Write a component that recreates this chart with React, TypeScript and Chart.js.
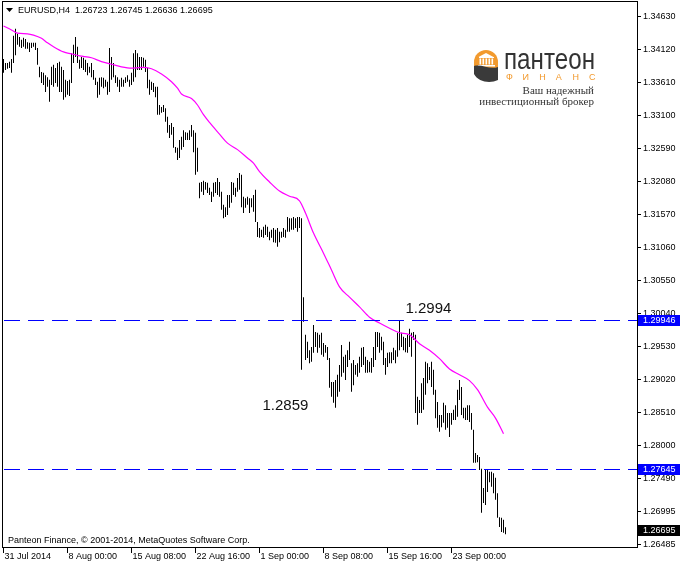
import React, { useEffect, useRef } from 'react';
import { Chart, registerables } from 'chart.js';

Chart.register(...registerables);

const FONT = '"Liberation Sans", Arial, sans-serif';

const symbolTitle = 'EURUSD,H4';
const lastOHLC = [1.26723, 1.26745, 1.26636, 1.26695];

const highs = [
  1.3398, 1.3392, 1.3392, 1.3394, 1.3398, 1.3434, 1.3445, 1.3437, 1.3432, 1.3428,
  1.3431, 1.3429, 1.3424, 1.3423, 1.3423, 1.3423, 1.3423, 1.3415, 1.3386, 1.3378,
  1.3377, 1.3373, 1.3370, 1.3366, 1.3386, 1.3389, 1.3384, 1.3392, 1.3394, 1.3386,
  1.3381, 1.3366, 1.3364, 1.3366, 1.3407, 1.3420, 1.3432, 1.3417, 1.3397, 1.3401,
  1.3400, 1.3397, 1.3392, 1.3386, 1.3392, 1.3381, 1.3369, 1.3363, 1.3369, 1.3370,
  1.3369, 1.3366, 1.3363, 1.3415, 1.3401, 1.3392, 1.3373, 1.3370, 1.3366, 1.3369,
  1.3366, 1.3370, 1.3373, 1.3366, 1.3377, 1.3407, 1.3412, 1.3407, 1.3401, 1.3401,
  1.3400, 1.3397, 1.3384, 1.3366, 1.3363, 1.3361, 1.3355, 1.3355, 1.3327, 1.3324,
  1.3327, 1.3322, 1.3309, 1.3296, 1.3299, 1.3293, 1.3262, 1.3261, 1.3273, 1.3278,
  1.3288, 1.3285, 1.3284, 1.3288, 1.3296, 1.3288, 1.3284, 1.3261, 1.3207, 1.3208,
  1.3210, 1.3208, 1.3207, 1.3199, 1.3193, 1.3207, 1.3208, 1.3214, 1.3208, 1.3193,
  1.3173, 1.3169, 1.3188, 1.3188, 1.3208, 1.3207, 1.3199, 1.3214, 1.3222, 1.3219,
  1.3185, 1.3183, 1.3185, 1.3183, 1.3183, 1.3188, 1.3196, 1.3146, 1.3137, 1.3134,
  1.3139, 1.3142, 1.3139, 1.3131, 1.3134, 1.3137, 1.3134, 1.3137, 1.3131, 1.3131,
  1.3137, 1.3134, 1.3154, 1.3152, 1.3152, 1.3154, 1.3152, 1.3154, 1.3154, 1.3152,
  1.3030, 1.2972, 1.2961, 1.2948, 1.2953, 1.2987, 1.2976, 1.2975, 1.2972, 1.2975,
  1.2959, 1.2956, 1.2953, 1.2936, 1.2899, 1.2899, 1.2902, 1.2910, 1.2925, 1.2956,
  1.2938, 1.2941, 1.2948, 1.2961, 1.2928, 1.2933, 1.2925, 1.2928, 1.2938, 1.2952,
  1.2953, 1.2938, 1.2933, 1.2930, 1.2936, 1.2953, 1.2976, 1.2976, 1.2975, 1.2969,
  1.2961, 1.2936, 1.2944, 1.2945, 1.2945, 1.2952, 1.2948, 1.2975, 1.29946, 1.2975,
  1.2969, 1.2967, 1.2972, 1.2981, 1.2975, 1.2976, 1.2972, 1.2876, 1.2871, 1.2897,
  1.2905, 1.2930, 1.2928, 1.2922, 1.2930, 1.2918, 1.2887, 1.2868, 1.2848, 1.2848,
  1.2867, 1.2863, 1.2851, 1.2851, 1.2851, 1.2856, 1.2863, 1.2887, 1.2902, 1.2891,
  1.2859, 1.2859, 1.2863, 1.2863, 1.2851, 1.2825, 1.2789, 1.2786, 1.2783, 1.2765,
  1.2735, 1.2763, 1.2763, 1.2760, 1.2760, 1.2758, 1.2751, 1.2727, 1.2690, 1.2689,
  1.2686, 1.26745,
];

const lows = [
  1.3377, 1.3381, 1.3383, 1.3384, 1.3377, 1.3392, 1.3404, 1.3420, 1.3417, 1.3415,
  1.3417, 1.3414, 1.3414, 1.3409, 1.3415, 1.3417, 1.3412, 1.3389, 1.3370, 1.3361,
  1.3358, 1.3347, 1.3355, 1.3332, 1.3358, 1.3355, 1.3361, 1.3355, 1.3347, 1.3347,
  1.3335, 1.3339, 1.3343, 1.3341, 1.3361, 1.3392, 1.3401, 1.3392, 1.3383, 1.3384,
  1.3381, 1.3378, 1.3373, 1.3377, 1.3370, 1.3366, 1.3358, 1.3338, 1.3343, 1.3355,
  1.3353, 1.3355, 1.3343, 1.3347, 1.3366, 1.3370, 1.3361, 1.3355, 1.3347, 1.3355,
  1.3355, 1.3361, 1.3363, 1.3355, 1.3358, 1.3363, 1.3370, 1.3381, 1.3381, 1.3381,
  1.3386, 1.3378, 1.3353, 1.3343, 1.3350, 1.3347, 1.3339, 1.3312, 1.3312, 1.3315,
  1.3316, 1.3301, 1.3284, 1.3276, 1.3281, 1.3261, 1.3253, 1.3242, 1.3245, 1.3258,
  1.3262, 1.3273, 1.3273, 1.3273, 1.3278, 1.3254, 1.3219, 1.3224, 1.3183, 1.3193,
  1.3188, 1.3196, 1.3191, 1.3188, 1.3177, 1.3185, 1.3191, 1.3188, 1.3185, 1.3165,
  1.3152, 1.3154, 1.3157, 1.3168, 1.3176, 1.3188, 1.3185, 1.3193, 1.3196, 1.3169,
  1.3160, 1.3168, 1.3173, 1.3160, 1.3169, 1.3162, 1.3146, 1.3123, 1.3122, 1.3123,
  1.3122, 1.3126, 1.3123, 1.3118, 1.3122, 1.3115, 1.3114, 1.3108, 1.3115, 1.3122,
  1.3123, 1.3122, 1.3131, 1.3131, 1.3134, 1.3134, 1.3137, 1.3131, 1.3137, 1.2918,
  1.2992, 1.2933, 1.2936, 1.2928, 1.2930, 1.2944, 1.2953, 1.2944, 1.2952, 1.2941,
  1.2938, 1.2944, 1.2933, 1.2890, 1.2876, 1.2867, 1.2859, 1.2876, 1.2884, 1.2907,
  1.2913, 1.2902, 1.2922, 1.2933, 1.2884, 1.2894, 1.2910, 1.2907, 1.2913, 1.2922,
  1.2925, 1.2913, 1.2913, 1.2914, 1.2913, 1.2922, 1.2933, 1.2953, 1.2944, 1.2948,
  1.2925, 1.2910, 1.2922, 1.2928, 1.2928, 1.2933, 1.2928, 1.2938, 1.2948, 1.2953,
  1.2948, 1.2945, 1.2944, 1.2953, 1.2938, 1.2964, 1.2851, 1.2833, 1.2851, 1.2851,
  1.2856, 1.2879, 1.2897, 1.2902, 1.2891, 1.2879, 1.2843, 1.2828, 1.2822, 1.2829,
  1.2836, 1.2825, 1.2828, 1.2814, 1.2833, 1.2840, 1.2840, 1.2845, 1.2871, 1.2848,
  1.2843, 1.2840, 1.2840, 1.2837, 1.2825, 1.2774, 1.2774, 1.2775, 1.2763, 1.2697,
  1.2712, 1.2709, 1.2729, 1.2744, 1.2737, 1.2727, 1.2717, 1.2689, 1.2675, 1.2667,
  1.2666, 1.26636,
];

const maIndex = [
  0, 4, 7, 12, 15, 19, 22, 25, 30, 34, 38, 44, 49, 54, 59, 64, 69, 74, 79, 84,
  87, 89, 94, 97, 100, 103, 108, 112, 117, 122, 125, 128, 133, 138, 143, 148, 151, 155, 160, 164,
  168, 173, 178, 183, 188, 193, 198, 203, 208, 213, 218, 223, 228, 233, 237, 242, 246, 250,
];
const maValues = [
  1.3449, 1.3443, 1.3438, 1.3437, 1.3435, 1.3430, 1.3423, 1.3417, 1.3409, 1.3406,
  1.3403, 1.3400, 1.3394, 1.3390, 1.3386, 1.3384, 1.3385, 1.3383, 1.3375, 1.3363,
  1.3353, 1.3344, 1.3337, 1.3327, 1.3312, 1.3300, 1.3282, 1.3268, 1.3258, 1.3245,
  1.3237, 1.3224, 1.3208, 1.3194, 1.3186, 1.3179, 1.3160, 1.3129, 1.3098, 1.3072,
  1.3046, 1.3030, 1.3015, 1.2999, 1.2990, 1.2982, 1.2975, 1.2972, 1.2958, 1.2948,
  1.2935, 1.2919, 1.2910, 1.2901, 1.2887, 1.2860, 1.2843, 1.2819,
];

const timeTickIndex = [0, 32, 64, 96, 128, 160, 192, 224];
const timeTickLabels = [
  '31 Jul 2014', '8 Aug 00:00', '15 Aug 08:00', '22 Aug 16:00',
  '1 Sep 00:00', '8 Sep 08:00', '15 Sep 16:00', '23 Sep 00:00',
];
const priceTicks = [
  1.3463, 1.3412, 1.3361, 1.331, 1.3259, 1.3208, 1.3157, 1.3106, 1.3055,
  1.3004, 1.2953, 1.2902, 1.2851, 1.28, 1.2749, 1.26995, 1.26485,
];
const levels = [1.29946, 1.27645];
const lastPrice = 1.26695;
const noteTexts = ['1.2994', '1.2859'];
const noteIndex = [201, 129.5];
const notePrice = [1.29946, 1.2859];

const Y_MIN = 1.26439;
const Y_MAX = 1.34877;

const mt4Plugin = {
  id: 'mt4',
  beforeDraw(chart: any) {
    const { ctx, width, height } = chart;
    ctx.save();
    ctx.fillStyle = '#ffffff';
    ctx.fillRect(0, 0, width, height);
    ctx.restore();
  },
  afterDatasetsDraw(chart: any) {
    const { ctx, chartArea: ca, scales } = chart;
    const ys = scales.y;
    ctx.save();
    ctx.strokeStyle = '#0000ff';
    ctx.lineWidth = 1;
    ctx.setLineDash([16, 8]);
    levels.forEach((v) => {
      const y = Math.round(ys.getPixelForValue(v)) + 0.5;
      ctx.beginPath();
      ctx.moveTo(ca.left + 2, y);
      ctx.lineTo(ca.right, y);
      ctx.stroke();
    });
    ctx.restore();
  },
  afterDraw(chart: any) {
    const { ctx, chartArea: ca, scales } = chart;
    const xs = scales.x;
    const ys = scales.y;
    ctx.save();
    // frame
    ctx.strokeStyle = '#000';
    ctx.lineWidth = 1;
    ctx.strokeRect(ca.left + 0.5, ca.top + 0.5, ca.right - ca.left, ca.bottom - ca.top);

    // header
    ctx.fillStyle = '#000';
    ctx.beginPath();
    ctx.moveTo(6, 8);
    ctx.lineTo(13, 8);
    ctx.lineTo(9.5, 12);
    ctx.closePath();
    ctx.fill();
    ctx.font = `9px ${FONT}`;
    ctx.textBaseline = 'middle';
    ctx.textAlign = 'left';
    ctx.fillText(`${symbolTitle}  ${lastOHLC.map((v) => v.toFixed(5)).join(' ')}`, 18, 11);

    // copyright
    ctx.fillText('Panteon Finance, \u00A9 2001-2014, MetaQuotes Software Corp.', 8, 541);

    // annotations
    ctx.font = `15px ${FONT}`;
    ctx.fillStyle = '#111';
    ctx.textBaseline = 'alphabetic';
    ctx.fillText(noteTexts[0], xs.getPixelForValue(noteIndex[0]), ys.getPixelForValue(notePrice[0]) - 7);
    ctx.fillText(noteTexts[1], xs.getPixelForValue(noteIndex[1]), ys.getPixelForValue(notePrice[1]) + 2);

    // price boxes
    ctx.font = `9px ${FONT}`;
    ctx.textBaseline = 'middle';
    const box = (v: number, bg: string) => {
      const y = Math.round(ys.getPixelForValue(v));
      ctx.fillStyle = bg;
      ctx.fillRect(638, y - 5, 42, 11);
      ctx.fillStyle = '#fff';
      ctx.fillText(v.toFixed(5), 643, y + 0.5);
    };
    levels.forEach((v) => box(v, '#0000ff'));
    box(lastPrice, '#000000');

    // logo: orange arch
    ctx.fillStyle = '#f29a2e';
    ctx.beginPath();
    ctx.moveTo(474, 68);
    ctx.lineTo(474, 62);
    ctx.arc(486, 62, 12, Math.PI, 0);
    ctx.lineTo(498, 68);
    ctx.closePath();
    ctx.fill();
    // white temple
    ctx.fillStyle = '#ffffff';
    ctx.beginPath();
    ctx.moveTo(478.5, 57);
    ctx.lineTo(486, 53);
    ctx.lineTo(493.5, 57);
    ctx.closePath();
    ctx.fill();
    ctx.fillRect(479, 57, 15, 1);
    for (let k = 0; k < 5; k++) ctx.fillRect(479.5 + k * 3, 58.5, 1.6, 6);
    ctx.fillRect(478, 65, 17, 1.5);
    // dark swoosh
    ctx.fillStyle = '#3a3a3a';
    ctx.beginPath();
    ctx.moveTo(474, 66);
    ctx.bezierCurveTo(482, 64, 490, 70, 498, 67);
    ctx.lineTo(498, 80);
    ctx.bezierCurveTo(490, 84, 478, 82, 474, 74);
    ctx.closePath();
    ctx.fill();
    // name
    ctx.fillStyle = '#333333';
    ctx.textBaseline = 'alphabetic';
    ctx.font = `29px ${FONT}`;
    const name = 'пантеон';
    const w = ctx.measureText(name).width;
    ctx.save();
    ctx.translate(504, 69);
    ctx.scale(91 / w, 1);
    ctx.fillText(name, 0, 0);
    ctx.restore();
    // ФИНАНС
    ctx.fillStyle = '#f29a2e';
    ctx.font = `9px ${FONT}`;
    const sub = ['Ф', 'И', 'Н', 'А', 'Н', 'С'];
    sub.forEach((ch, k) => ctx.fillText(ch, 506 + k * 16.6, 80));
    // slogan
    ctx.fillStyle = '#333';
    ctx.font = `11px "Liberation Serif", "DejaVu Serif", serif`;
    ctx.textAlign = 'right';
    ctx.fillText('Ваш надежный', 594, 94);
    ctx.fillText('инвестиционный брокер', 594, 105);
    ctx.restore();
  },
};

export default function App() {
  const ref = useRef<HTMLCanvasElement>(null);
  useEffect(() => {
    const canvas = ref.current;
    if (!canvas) return;
    Chart.defaults.font.family = FONT;
    const chart = new Chart(canvas, {
      type: 'bar',
      data: {
        datasets: [
          {
            type: 'line',
            data: maIndex.map((x, k) => ({ x, y: maValues[k] })),
            borderColor: '#ff00ff',
            borderWidth: 1.2,
            pointRadius: 0,
            fill: false,
            cubicInterpolationMode: 'monotone',
            order: 1,
          } as any,
          {
            type: 'bar',
            data: highs.map((h, i) => ({ x: i, y: [lows[i], h] })),
            backgroundColor: '#000000',
            borderWidth: 0,
            barThickness: 1,
            inflateAmount: 0,
            order: 2,
          } as any,
        ],
      },
      options: {
        responsive: false,
        animation: false,
        devicePixelRatio: 1,
        layout: { padding: { left: 2, top: 1, right: 0, bottom: 0 } },
        plugins: { legend: { display: false }, tooltip: { enabled: false } },
        scales: {
          x: {
            type: 'linear',
            min: -0.75,
            max: 316.75,
            offset: false,
            border: { display: false },
            grid: { display: true, offset: false, drawOnChartArea: false, drawTicks: true, tickLength: 6, color: '#000', lineWidth: 1 },
            afterBuildTicks: (s: any) => {
              s.ticks = timeTickIndex.map((v) => ({ value: v }));
            },
            afterFit: (s: any) => {
              s.height = 19;
              s.paddingLeft = 0;
              s.paddingRight = 0;
            },
            ticks: {
              autoSkip: false,
              maxRotation: 0,
              minRotation: 0,
              align: 'start',
              labelOffset: 1,
              padding: -2,
              color: '#000',
              font: { family: FONT, size: 9 },
              callback: (v: any) => {
                const k = timeTickIndex.indexOf(Number(v));
                return k >= 0 ? timeTickLabels[k] : '';
              },
            },
          },
          y: {
            type: 'linear',
            position: 'right',
            min: Y_MIN,
            max: Y_MAX,
            border: { display: false },
            grid: { display: true, drawOnChartArea: false, drawTicks: true, tickLength: 4, color: '#000', lineWidth: 1 },
            afterBuildTicks: (s: any) => {
              s.ticks = priceTicks.map((v) => ({ value: v }));
            },
            afterFit: (s: any) => {
              s.width = 43;
              s.paddingTop = 0;
              s.paddingBottom = 0;
            },
            ticks: {
              autoSkip: false,
              padding: 2,
              color: '#000',
              font: { family: FONT, size: 9 },
              callback: (v: any) => Number(v).toFixed(5),
            },
          },
        },
      } as any,
      plugins: [mt4Plugin],
    });
    return () => chart.destroy();
  }, []);
  return (
    <div style={{ position: 'absolute', left: 0, top: 0, width: 680, height: 566 }}>
      <canvas ref={ref} width={680} height={566} style={{ display: 'block', width: 680, height: 566 }} />
    </div>
  );
}
